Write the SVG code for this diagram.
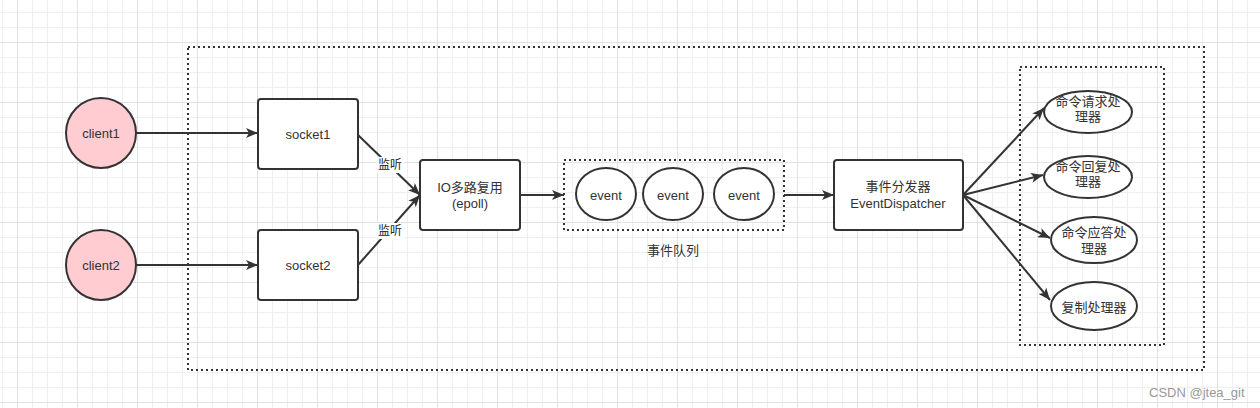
<svg xmlns="http://www.w3.org/2000/svg" width="1260" height="408" viewBox="0 0 1260 408">
<style>
.box{fill:#fff;stroke:#333;stroke-width:2}
.cli{fill:#ffccd1;stroke:#333;stroke-width:2}
.dot{fill:none;stroke:#333;stroke-width:2;stroke-dasharray:2 3}
.ln{fill:none;stroke:#333;stroke-width:2;marker-end:url(#ah)}
text{font-family:"Liberation Sans","Noto Sans CJK SC",sans-serif;font-size:13px;fill:#333;text-anchor:middle;dominant-baseline:central}
.lbl{font-size:12px;fill:#222}
.wm{font-size:13px;fill:#999;text-anchor:start}
</style>
<defs>
<pattern id="grid" patternUnits="userSpaceOnUse" x="17" y="42" width="60" height="60">
<rect width="60" height="60" fill="#fff"/>
<rect x="15" width="1" height="60" fill="#efefef"/>
<rect x="30" width="1" height="60" fill="#efefef"/>
<rect x="45" width="1" height="60" fill="#efefef"/>
<rect y="15" width="60" height="1" fill="#efefef"/>
<rect y="30" width="60" height="1" fill="#efefef"/>
<rect y="45" width="60" height="1" fill="#efefef"/>
<rect x="0" width="1" height="60" fill="#e2e2e2"/>
<rect y="0" width="60" height="1" fill="#e2e2e2"/>
</pattern>
<marker id="ah" markerUnits="userSpaceOnUse" markerWidth="12" markerHeight="10" refX="12" refY="5" orient="auto">
<path d="M0,0 L12,5 L0,10 L3,5 Z" fill="#333"/>
</marker>
</defs>
<rect width="1260" height="408" fill="url(#grid)"/>
<rect id="container" x="188" y="47" width="1016" height="323" fill="#fff" class="dot"/>
<rect id="handler-group" x="1020" y="67" width="144" height="278" class="dot"/>

<g id="connectors">
<path class="ln" d="M136,133 L258,133"/>
<path class="ln" d="M136,265 L258,265"/>
<path class="ln" d="M358,135 L420,195"/>
<path class="ln" d="M358,265 L420,195"/>
<path class="ln" d="M520,195 L564,195"/>
<path class="ln" d="M784,195 L834,195"/>
<path class="ln" d="M963,195 L1044,108"/>
<path class="ln" d="M963,195 L1043,175"/>
<path class="ln" d="M963,195 L1050,238"/>
<path class="ln" d="M963,195 L1050,300"/>
<rect x="376" y="157" width="28" height="16" fill="#fff"/>
<text class="lbl" x="390" y="165">监听</text>
<rect x="376" y="223" width="28" height="16" fill="#fff"/>
<text class="lbl" x="390" y="231">监听</text>
</g>

<g id="client1"><circle class="cli" cx="101" cy="133" r="35"/><text x="101" y="133">client1</text></g>
<g id="client2"><circle class="cli" cx="101" cy="265" r="35"/><text x="101" y="265">client2</text></g>
<g id="socket1"><rect class="box" x="258" y="99" width="100" height="70" rx="3"/><text x="308" y="134">socket1</text></g>
<g id="socket2"><rect class="box" x="258" y="230" width="100" height="70" rx="3"/><text x="308" y="265">socket2</text></g>
<g id="io"><rect class="box" x="420" y="160" width="100" height="70" rx="3"/><text x="470" y="187">IO多路复用</text><text x="470" y="203">(epoll)</text></g>
<g id="event-queue">
<rect class="dot" x="564" y="160" width="220" height="70"/>
<ellipse class="box" cx="606" cy="194" rx="30" ry="26"/><text x="606" y="195">event</text>
<ellipse class="box" cx="673" cy="194" rx="30" ry="26"/><text x="673" y="195">event</text>
<ellipse class="box" cx="744" cy="194" rx="30" ry="26"/><text x="744" y="195">event</text>
<text x="673" y="250">事件队列</text>
</g>
<g id="dispatcher"><rect class="box" x="834" y="160" width="129" height="70" rx="3"/><text x="898" y="186">事件分发器</text><text x="898" y="203">EventDispatcher</text></g>
<g id="h1"><ellipse class="box" cx="1088" cy="112" rx="44" ry="21"/><text x="1088" y="101">命令请求处</text><text x="1088" y="116">理器</text></g>
<g id="h2"><ellipse class="box" cx="1088" cy="177" rx="44" ry="21"/><text x="1088" y="166">命令回复处</text><text x="1088" y="181">理器</text></g>
<g id="h3"><ellipse class="box" cx="1094" cy="240" rx="43" ry="23"/><text x="1094" y="232">命令应答处</text><text x="1094" y="248">理器</text></g>
<g id="h4"><ellipse class="box" cx="1094" cy="306" rx="43" ry="24"/><text x="1094" y="307">复制处理器</text></g>
<text class="wm" x="1149" y="392">CSDN @jtea_git</text>
</svg>
